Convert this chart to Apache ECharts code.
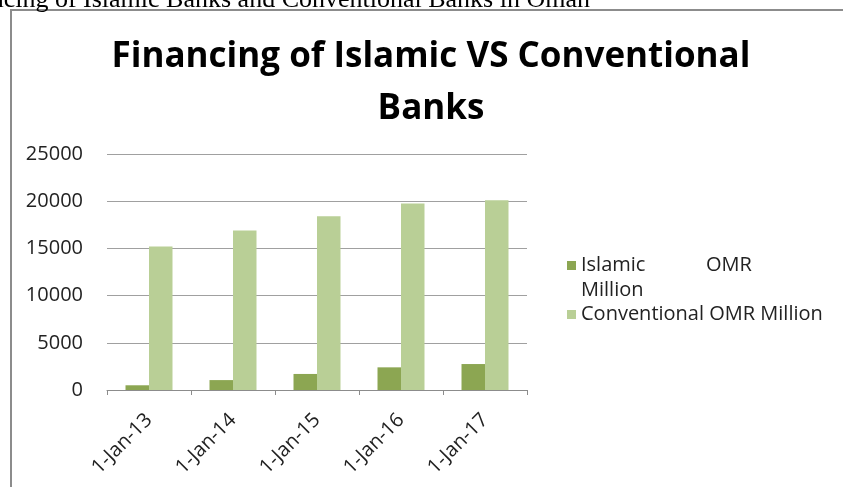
<!DOCTYPE html>
<html>
<head>
<meta charset="utf-8">
<script src="https://cdn.jsdelivr.net/npm/echarts@6/dist/echarts.min.js"></script>
<style>
html,body{margin:0;padding:0;background:#fff;}
#chart{width:843px;height:487px;}
</style>
</head>
<body>
<div id="chart"></div>
<script>
const categories = ['1-Jan-13', '1-Jan-14', '1-Jan-15', '1-Jan-16', '1-Jan-17'];
const islamicValues = [500, 1050, 1700, 2400, 2750];
const conventionalValues = [15200, 16900, 18400, 19750, 20100];
const seriesNames = ['Islamic OMR Million', 'Conventional OMR Million'];
const yTicks = { min: 0, max: 25000, interval: 5000 };
const captionText = 'Financing of Islamic Banks and Conventional Banks in Oman';
const titleText = 'Financing of Islamic VS Conventional\nBanks';

const FONT = '"Open Sans", sans-serif';
const chart = echarts.init(document.getElementById('chart'), null, { renderer: 'canvas' });

const option = {
  backgroundColor: '#ffffff',
  animation: false,
  title: {
    text: titleText, left: 431, top: 31, padding: 0, textAlign: 'center',
    textStyle: { fontFamily: FONT, fontWeight: 'bold', fontSize: 35, color: '#000', lineHeight: 52 }
  },
  graphic: [
    { type: 'rect', shape: { x: 11, y: 10, width: 900, height: 600 },
      style: { fill: 'none', stroke: '#8c8c8c', lineWidth: 2 }, silent: true },
    { type: 'text', x: 590, y: 0,
      style: { text: captionText, fontFamily: '"Liberation Serif", serif', fontSize: 26, fill: '#000',
               textAlign: 'right', textVerticalAlign: 'middle' } }
  ],
  legend: {
    orient: 'vertical',
    left: 567,
    top: 228,
    padding: 0,
    itemWidth: 9,
    itemHeight: 9,
    itemGap: -1,
    icon: 'rect',
    data: [
      { name: seriesNames[0], textStyle: { padding: [25, 0, 0, 0] } },
      { name: seriesNames[1] }
    ],
    formatter: function (name) {
      if (name === seriesNames[0]) return '{a|Islamic}OMR\nMillion';
      return name;
    },
    textStyle: {
      fontFamily: FONT, fontSize: 20, color: '#222', lineHeight: 25,
      rich: { a: { width: 125, fontFamily: FONT, fontSize: 20, color: '#222', lineHeight: 25 } }
    }
  },
  grid: { left: 107, right: 316, top: 154, bottom: 97, containLabel: false },
  xAxis: {
    type: 'category',
    data: categories,
    axisLine: { lineStyle: { color: '#8c8c8c', width: 1 } },
    axisTick: { show: true, length: 5, lineStyle: { color: '#8c8c8c' } },
    axisLabel: { rotate: 45, margin: 27, fontFamily: FONT, fontSize: 20, color: '#222' }
  },
  yAxis: {
    type: 'value',
    min: yTicks.min, max: yTicks.max, interval: yTicks.interval,
    axisLine: { show: false },
    axisTick: { show: false },
    splitLine: { lineStyle: { color: '#a0a0a0', width: 1 } },
    axisLabel: { margin: 24, fontFamily: FONT, fontSize: 20, color: '#222',
                 formatter: function (v) { return String(v); } }
  },
  series: [
    { name: seriesNames[0], type: 'bar', data: islamicValues, barWidth: 23.5, barGap: '0%',
      itemStyle: { color: '#8ca652' } },
    { name: seriesNames[1], type: 'bar', data: conventionalValues, barWidth: 23.5, barGap: '0%',
      itemStyle: { color: '#b9cf96' } }
  ]
};
chart.setOption(option);
</script>
</body>
</html>
